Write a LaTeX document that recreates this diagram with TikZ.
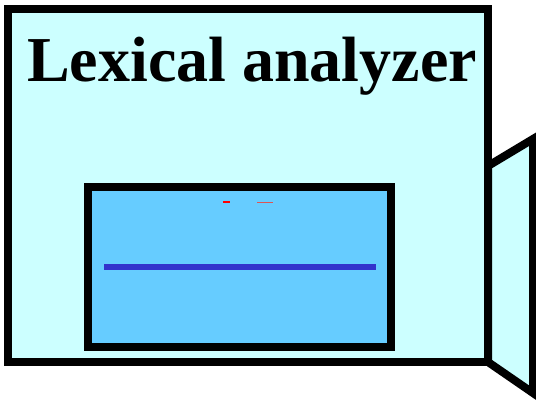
\documentclass[tikz,border=0pt]{standalone}
\usepackage{fontspec}
\setmainfont{Liberation Serif}
\usepackage{xcolor}
\definecolor{paleCyan}{HTML}{CCFFFF}
\definecolor{skyFill}{HTML}{66CCFF}
\definecolor{barBlue}{HTML}{3333CC}
\definecolor{markRed}{HTML}{FF0000}
\definecolor{markPink}{HTML}{DD5555}

\begin{document}
\begin{tikzpicture}[
    x=1pt, y=-1pt,
    frame/.style={draw=black, line width=8pt, line join=miter},
    title/.style={font=\fontsize{64}{70}\selectfont\bfseries, inner sep=0pt, anchor=base}
]
\useasboundingbox (0,0) rectangle (536,401);

% side flap
\filldraw[frame, fill=paleCyan] (488,166) -- (533,139) -- (533,393) -- (488,362) -- cycle;

% analyzer box
\filldraw[frame, fill=paleCyan] (8,9) rectangle (488,362);
\node[title] (name) at (252,82) {Lexical analyzer};

% buffer
\filldraw[frame, fill=skyFill] (88,187) rectangle (391,347);
\coordinate (barL) at (104,267);
\coordinate (barR) at (376,267);
\draw[barBlue, line width=6pt] (barL) -- (barR);

% small marks
\coordinate (m1) at (223,202);
\coordinate (m2) at (230,202);
\coordinate (m3) at (257,202.5);
\coordinate (m4) at (273,202.5);
\draw[markRed, line width=2pt] (m1) -- (m2);
\draw[markPink, line width=1.5pt] (m3) -- (m4);

\end{tikzpicture}
\end{document}
